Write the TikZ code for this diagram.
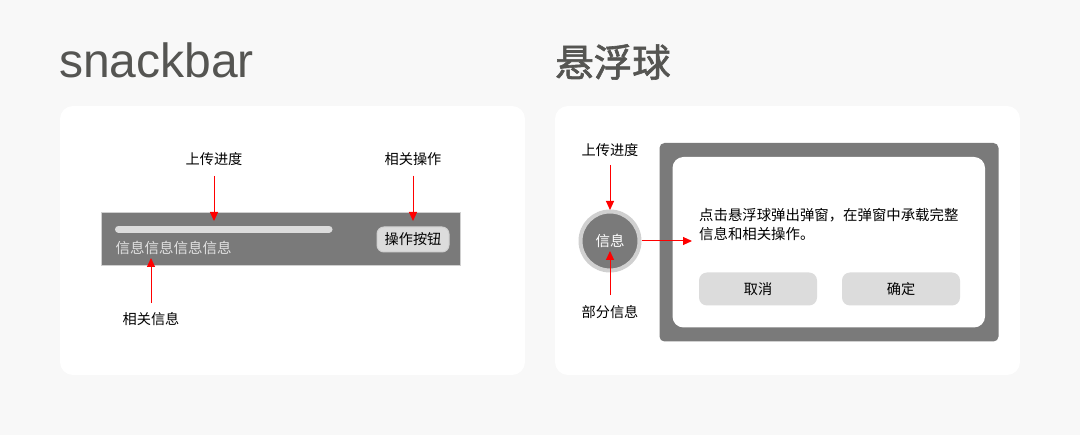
\documentclass[tikz,border=0pt]{standalone}
\usepackage{fontspec}
\setmainfont{Noto Sans CJK SC}
\newfontfamily\latinfont{Liberation Sans}
\newfontfamily\cjktitle[FakeBold=1.6]{Noto Sans CJK SC}
\usetikzlibrary{arrows.meta}
\definecolor{pagebg}{HTML}{F8F8F8}
\definecolor{titlegray}{HTML}{555552}
\definecolor{bargray}{HTML}{7A7A7A}
\definecolor{lightgray}{HTML}{DCDCDC}
\definecolor{ringgray}{HTML}{D0D0D0}
\definecolor{arrowred}{HTML}{FF0000}
\tikzset{
    card/.style={fill=white, rounded corners=13pt},
    label/.style={font=\fontsize{14.2}{16}\selectfont, text=black, inner sep=0pt},
    redarrow/.style={draw=arrowred, line width=1pt, -{Triangle[length=9pt,width=8pt]}},
    btn/.style={fill=lightgray, rounded corners=8pt, inner sep=0pt, font=\fontsize{14.2}{16}\selectfont}
}
\begin{document}
\begin{tikzpicture}[x=1pt,y=-1pt]
    \fill[pagebg] (0,0) rectangle (1080,435) ;
    \useasboundingbox (0,0) rectangle (1080,435) ;
    % titles
    \node[anchor=base west, inner sep=0pt, text=titlegray, font=\latinfont\fontsize{48}{52}\selectfont] (title1) at (59,78) {snackbar} ;
    \node[anchor=west, inner sep=0pt, text=titlegray, font=\cjktitle\fontsize{38.5}{42}\selectfont] (title2) at (555,62) {悬浮球} ;
    % cards
    \fill[card] (60,106) rectangle (525,375) ;
    \fill[card] (555,106) rectangle (1020,375) ;
    %% snackbar
    \node[draw=ringgray, fill=bargray, line width=1pt, anchor=north west, minimum width=359pt, minimum height=53pt, inner sep=0pt] (bar) at (101,212.5) {} ;
    \draw[lightgray, line width=7pt, line cap=round] (118.5,229.2) -- (329,229.2) ;
    \node[anchor=west, inner sep=0pt, text=white!88!black, font=\fontsize{14.5}{16}\selectfont] (info) at (115.5,247.5) {信息信息信息信息} ;
    \node[btn, draw=ringgray, line width=1pt, minimum width=72pt, minimum height=25pt, rounded corners=7pt] (actbtn) at (413,239.5) {操作按钮} ;
    \node[label] (upload1) at (214,159) {上传进度} ;
    \node[label] (action1) at (413,159) {相关操作} ;
    \node[label] (relinfo) at (151,319) {相关信息} ;
    \coordinate (tip1) at (214,221) ;
    \coordinate (tip2) at (413,221) ;
    \coordinate (tip3) at (151,258) ;
    \draw[redarrow] (upload1.south) ++(0,10) -- (tip1) ;
    \draw[redarrow] (action1.south) ++(0,10) -- (tip2) ;
    \draw[redarrow] (relinfo.north) ++(0,-9) -- (tip3) ;
    %% floating ball
    % dialog
    \fill[bargray, rounded corners=5pt] (659.5,143) rectangle (998.5,341.5) ;
    \fill[white, rounded corners=11pt] (672.5,157) rectangle (985,327.5) ;
    \node[anchor=north west, align=left, inner sep=0pt, font=\fontsize{14.4}{19.5}\selectfont] (msg) at (699,208) {点击悬浮球弹出弹窗，在弹窗中承载完整\\信息和相关操作。} ;
    \node[btn, minimum width=118pt, minimum height=33pt] (cancel) at (758,289) {取消} ;
    \node[btn, minimum width=118pt, minimum height=33pt] (confirm) at (901,289) {确定} ;
    \node[circle, fill=bargray, draw=ringgray, line width=4pt, minimum size=59pt, inner sep=0pt, text=white, font=\fontsize{14.5}{16}\selectfont] (ball) at (610,241) {信息} ;
    \node[label] (upload2) at (610,150) {上传进度} ;
    \node[label] (partinfo) at (610,312) {部分信息} ;
    \coordinate (tip4) at (610,210) ;
    \coordinate (tip5) at (610,251) ;
    \coordinate (tip6) at (692,241) ;
    \draw[redarrow] (upload2.south) ++(0,8) -- (tip4) ;
    \draw[redarrow] (partinfo.north) ++(0,-10) -- (tip5) ;
    \draw[redarrow] (ball.east) -- (tip6) ;
\end{tikzpicture}
\end{document}
